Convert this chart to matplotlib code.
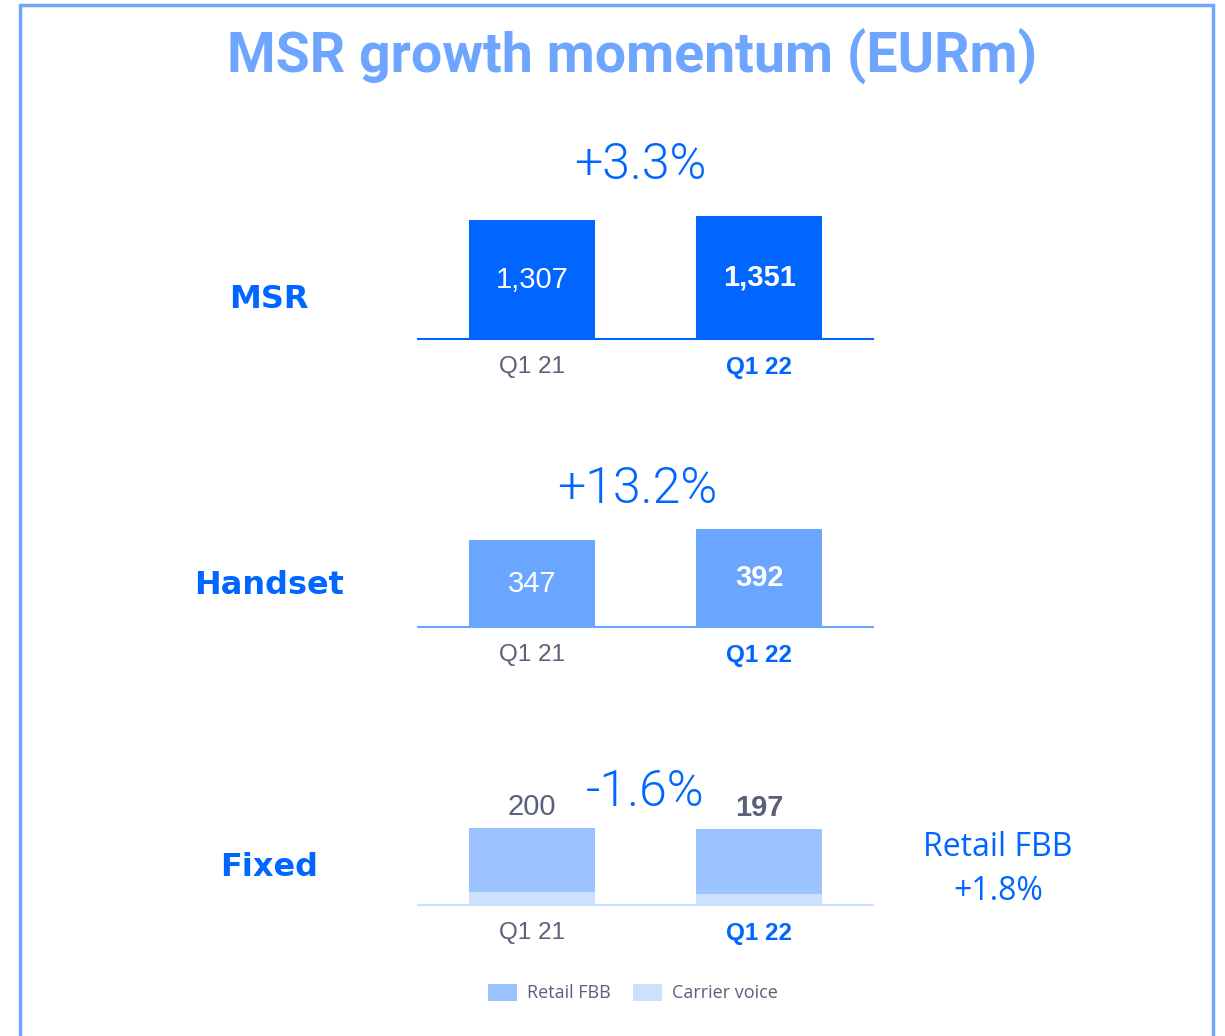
import matplotlib
matplotlib.use("Agg")
import matplotlib.pyplot as plt
from matplotlib.patches import Rectangle, Patch

# ---- data ----
periods = ["Q1 21", "Q1 22"]
msr = [1307, 1351]
handset = [347, 392]
fixed_retail_fbb = [165, 168]
fixed_carrier_voice = [35, 29]
fixed_total = [200, 197]
msr_growth = "+3.3%"
handset_growth = "+13.2%"
fixed_growth = "-1.6%"
retail_fbb_growth = "+1.8%"
title = "MSR growth momentum (EURm)"
row_labels = ["MSR", "Handset", "Fixed"]
legend_labels = ["Retail FBB", "Carrier voice"]

W, H = 1225, 1036
fig = plt.figure(figsize=(W / 100, H / 100), dpi=100)
fig.patch.set_facecolor("white")

BLUE = "#0066ff"
MID = "#6aa5ff"
LIGHT = "#9cc3ff"
PALE = "#cde1ff"
GREY = "#5a6078"
FONT = "Liberation Sans"


def fx(px):
    return px / W


def fy(py):
    return 1 - py / H


# border
fig.add_artist(Rectangle((fx(20), fy(1060)), fx(1213) - fx(20), fy(5) - fy(1060),
                         transform=fig.transFigure, fill=False, edgecolor="#6ea6ff",
                         linewidth=2.5))

fig.text(fx(632), fy(56), title, ha="center", va="center", color="#6ea6ff",
         fontsize=40, fontweight="bold", family="Roboto")

x = [0, 1]
bw = 0.555


def make_axes(bottom_px, top_px, scale):
    ax = fig.add_axes([fx(418), fy(bottom_px), fx(873) - fx(418), (bottom_px - top_px) / H])
    ax.set_xlim(-0.5, 1.5)
    ax.set_ylim(0, (bottom_px - top_px) / scale)
    for s in ["top", "right", "left"]:
        ax.spines[s].set_visible(False)
    ax.set_yticks([])
    ax.set_xticks(x)
    ax.set_xticklabels(periods)
    ax.tick_params(axis="x", length=0, pad=12, labelsize=17.5)
    labs = ax.get_xticklabels()
    labs[0].set_color(GREY)
    labs[0].set_family(FONT)
    labs[1].set_color(BLUE)
    labs[1].set_fontweight("bold")
    labs[1].set_family(FONT)
    ax.patch.set_alpha(0)
    return ax


# MSR
ax1 = make_axes(339, 190, 119 / 1307)
ax1.bar(x, msr, width=bw, color=BLUE, zorder=2)
ax1.spines["bottom"].set_color(BLUE)
ax1.spines["bottom"].set_linewidth(1.5)
for i, v in enumerate(msr):
    ax1.text(x[i], v / 2, f"{v:,}", ha="center", va="center", color="white",
             fontsize=21, family=FONT, fontweight="bold" if i == 1 else "normal")

# Handset
ax2 = make_axes(627, 500, 87 / 347)
ax2.bar(x, handset, width=bw, color=MID, zorder=2)
ax2.spines["bottom"].set_color(MID)
ax2.spines["bottom"].set_linewidth(1.5)
for i, v in enumerate(handset):
    ax2.text(x[i], v / 2, f"{v:,}", ha="center", va="center", color="white",
             fontsize=21, family=FONT, fontweight="bold" if i == 1 else "normal")

# Fixed
ax3 = make_axes(905, 780, 77 / 200)
ax3.bar(x, fixed_carrier_voice, width=bw, color=PALE, zorder=2)
ax3.bar(x, fixed_retail_fbb, width=bw, bottom=fixed_carrier_voice, color=LIGHT, zorder=2)
ax3.spines["bottom"].set_color(PALE)
ax3.spines["bottom"].set_linewidth(1.5)
for i, v in enumerate(fixed_total):
    ax3.annotate(f"{v}", (x[i], v), xytext=(0, 5), textcoords="offset points",
                 ha="center", va="bottom", color=GREY, fontsize=21, family=FONT,
                 fontweight="bold" if i == 1 else "normal")

# row labels
for lbl, py in zip(row_labels, [300, 585, 868]):
    fig.text(fx(269), fy(py), lbl, ha="center", va="center", color=BLUE,
             fontsize=23, fontweight="bold", family="DejaVu Sans")

# growth texts
for txt, px, py in [(msr_growth, 640, 165), (handset_growth, 637, 489), (fixed_growth, 645, 792)]:
    fig.text(fx(px), fy(py), txt, ha="center", va="center", color=BLUE,
             fontsize=36, fontweight=300, family="Roboto")

fig.text(fx(998), fy(848), "Retail FBB", ha="center", va="center", color=BLUE,
         fontsize=23, family="Open Sans")
fig.text(fx(998), fy(892), retail_fbb_growth, ha="center", va="center", color=BLUE,
         fontsize=23, family="Open Sans")

handles = [Patch(facecolor=LIGHT, edgecolor="none"), Patch(facecolor=PALE, edgecolor="none")]
leg = fig.legend(handles, legend_labels, loc="center", bbox_to_anchor=(fx(633), fy(993)),
                 ncol=2, frameon=False, handlelength=1.6, handleheight=1.1,
                 columnspacing=1.2, handletextpad=0.6, prop={"family": "Open Sans", "size": 13})
for t in leg.get_texts():
    t.set_color(GREY)

fig.savefig("out.png", dpi=100, facecolor="white")
